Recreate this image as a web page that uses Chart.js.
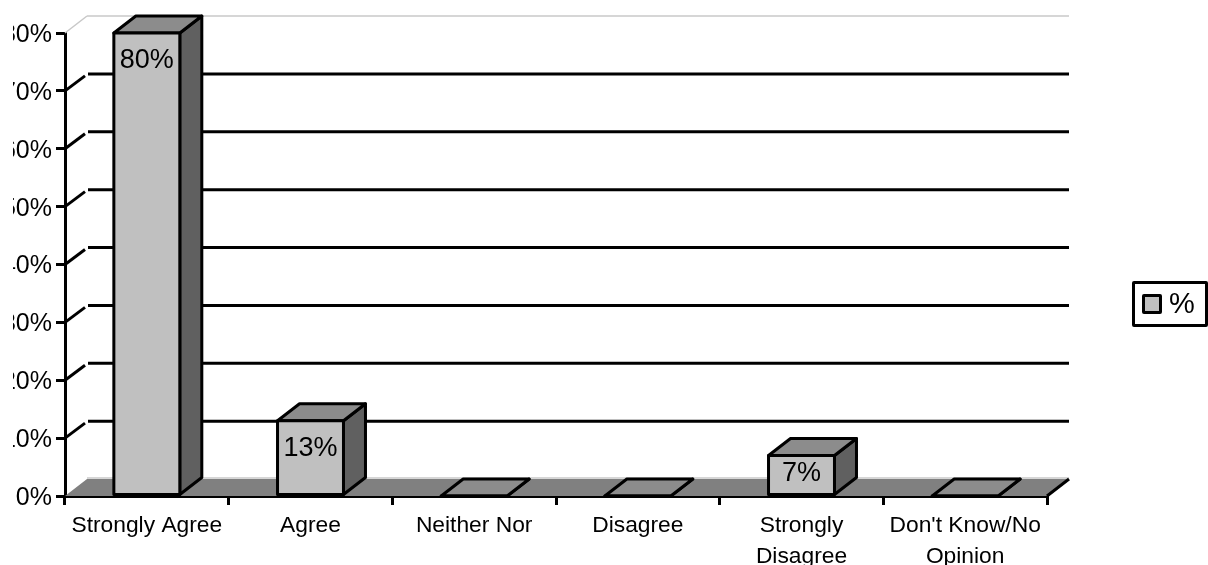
<!DOCTYPE html>
<html>
<head>
<meta charset="utf-8">
<script src="https://cdn.jsdelivr.net/npm/chart.js@4.4.0/dist/chart.umd.js"></script>
<style>
    html, body { margin: 0; padding: 0; background: #fff; overflow: hidden; }
    #wrap { position: absolute; left: 13px; top: 0; width: 1195px; height: 565px; }
    #legend {
        position: absolute; left: 1132px; top: 281px; width: 70px; height: 40px;
        border: 3px solid #000; border-radius: 2px; font: 29px 'Liberation Sans', Arial, sans-serif; color: #000;
    }
    #legend i {
        position: absolute; left: 7px; top: 10px; width: 14px; height: 14px;
        background: #c0c0c0; border: 3px solid #000; border-radius: 2px;
    }
    #legend span { position: absolute; left: 34px; top: 3px; }
</style>
</head>
<body>
<div id="wrap"><canvas id="chart" width="1195" height="565"></canvas></div>
<div id="legend"><i></i><span id="legendText"></span></div>
<script>
const categories = ['Strongly Agree', 'Agree', 'Neither Nor', 'Disagree', ['Strongly', 'Disagree'], ["Don't Know/No", 'Opinion']];
const seriesName = '%';
const values = [80, 13, 0, 0, 7, 0];
const yMax = 80;
const yStep = 10;

const DEPTH_X = 22;
const DEPTH_Y = 17;
const FONT = "'Liberation Sans', Arial, sans-serif";

function poly(ctx, pts, fill, stroke, lw) {
    ctx.beginPath();
    pts.forEach((p, i) => i ? ctx.lineTo(p[0], p[1]) : ctx.moveTo(p[0], p[1]));
    ctx.closePath();
    if (fill) { ctx.fillStyle = fill; ctx.fill(); }
    if (stroke) { ctx.strokeStyle = stroke; ctx.lineWidth = lw; ctx.lineJoin = 'round'; ctx.stroke(); }
}

function line(ctx, x1, y1, x2, y2, color, lw) {
    ctx.beginPath();
    ctx.moveTo(x1, y1);
    ctx.lineTo(x2, y2);
    ctx.strokeStyle = color;
    ctx.lineWidth = lw;
    ctx.stroke();
}

// back wall, floor and the depth faces of the bars
const depthPlugin = {
    id: 'depth',
    beforeDatasetsDraw(chart) {
        const { ctx, chartArea: a, scales: { y } } = chart;
        ctx.save();
        y.ticks.forEach(t => {
            const py = y.getPixelForValue(t.value);
            if (t.value === 0) return;
            if (t.value === yMax) {
                line(ctx, a.left, py, a.left + DEPTH_X, py - DEPTH_Y, '#c8c8c8', 1.5);
                line(ctx, a.left + DEPTH_X, py - DEPTH_Y, a.right + DEPTH_X, py - DEPTH_Y, '#c8c8c8', 1.5);
            } else {
                line(ctx, a.left, py, a.left + DEPTH_X - 2, py - DEPTH_Y + 2, '#000', 3);
                line(ctx, a.left + DEPTH_X + 1, py - DEPTH_Y, a.right + DEPTH_X, py - DEPTH_Y, '#000', 3);
            }
        });
        const b = y.getPixelForValue(0);
        line(ctx, a.left + DEPTH_X, b - DEPTH_Y - 1, a.right + DEPTH_X, b - DEPTH_Y - 1, '#c8c8c8', 1.5);
        poly(ctx, [[a.left, b], [a.left + DEPTH_X, b - DEPTH_Y], [a.right + DEPTH_X, b - DEPTH_Y], [a.right, b]], '#808080');
        line(ctx, a.right, b, a.right + DEPTH_X, b - DEPTH_Y, '#000', 3);

        chart.getDatasetMeta(0).data.forEach(bar => {
            const l = bar.x - bar.width / 2;
            const r = bar.x + bar.width / 2;
            poly(ctx, [[r, bar.y], [r + DEPTH_X, bar.y - DEPTH_Y], [r + DEPTH_X, bar.base - DEPTH_Y], [r, bar.base]], '#606060', '#000', 3);
            poly(ctx, [[l, bar.y], [l + DEPTH_X, bar.y - DEPTH_Y], [r + DEPTH_X, bar.y - DEPTH_Y], [r, bar.y]], '#8c8c8c', '#000', 3);
        });
        ctx.restore();
    },
    afterDatasetsDraw(chart) {
        const { ctx } = chart;
        ctx.save();
        chart.getDatasetMeta(0).data.forEach((bar, i) => {
            // front face outline, centred on the bar edges
            poly(ctx, [[bar.x - bar.width / 2, bar.y], [bar.x + bar.width / 2, bar.y], [bar.x + bar.width / 2, bar.base], [bar.x - bar.width / 2, bar.base]], null, '#000', 3);
            if (!values[i]) return;
            const h = bar.base - bar.y;
            ctx.fillStyle = '#000';
            ctx.font = '27px ' + FONT;
            ctx.textAlign = 'center';
            ctx.textBaseline = 'middle';
            ctx.fillText(values[i] + '%', bar.x, bar.y + Math.min(28, h / 2 - 1));
        });
        ctx.restore();
    }
};

document.getElementById('legendText').textContent = seriesName;

new Chart(document.getElementById('chart').getContext('2d'), {
    type: 'bar',
    data: {
        labels: categories,
        datasets: [{
            label: seriesName,
            data: values,
            backgroundColor: '#c0c0c0',
            borderWidth: 0,
            barPercentage: 0.403,
            categoryPercentage: 1
        }]
    },
    plugins: [depthPlugin],
    options: {
        responsive: false,
        animation: false,
        layout: { padding: { left: 0, top: 33, right: 161, bottom: 0 } },
        plugins: { legend: { display: false }, tooltip: { enabled: false } },
        scales: {
            y: {
                min: 0,
                max: yMax,
                afterFit(scale) { scale.width = 52; },
                ticks: {
                    stepSize: yStep,
                    callback: v => v + '%',
                    color: '#000',
                    padding: 4,
                    labelOffset: 2,
                    font: { family: FONT, size: 25 }
                },
                grid: { drawOnChartArea: false, color: '#000', lineWidth: 3, tickLength: 9 },
                border: { display: true, color: '#000', width: 3 }
            },
            x: {
                afterFit(scale) { scale.height = 69; },
                ticks: {
                    color: '#000',
                    maxRotation: 0,
                    autoSkip: false,
                    padding: 6,
                    font: { family: FONT, size: 22.8, lineHeight: 1.33 }
                },
                grid: { drawOnChartArea: false, color: '#000', lineWidth: 3, tickLength: 9 },
                border: { display: true, color: '#000', width: 3 }
            }
        }
    }
});
</script>
</body>
</html>
